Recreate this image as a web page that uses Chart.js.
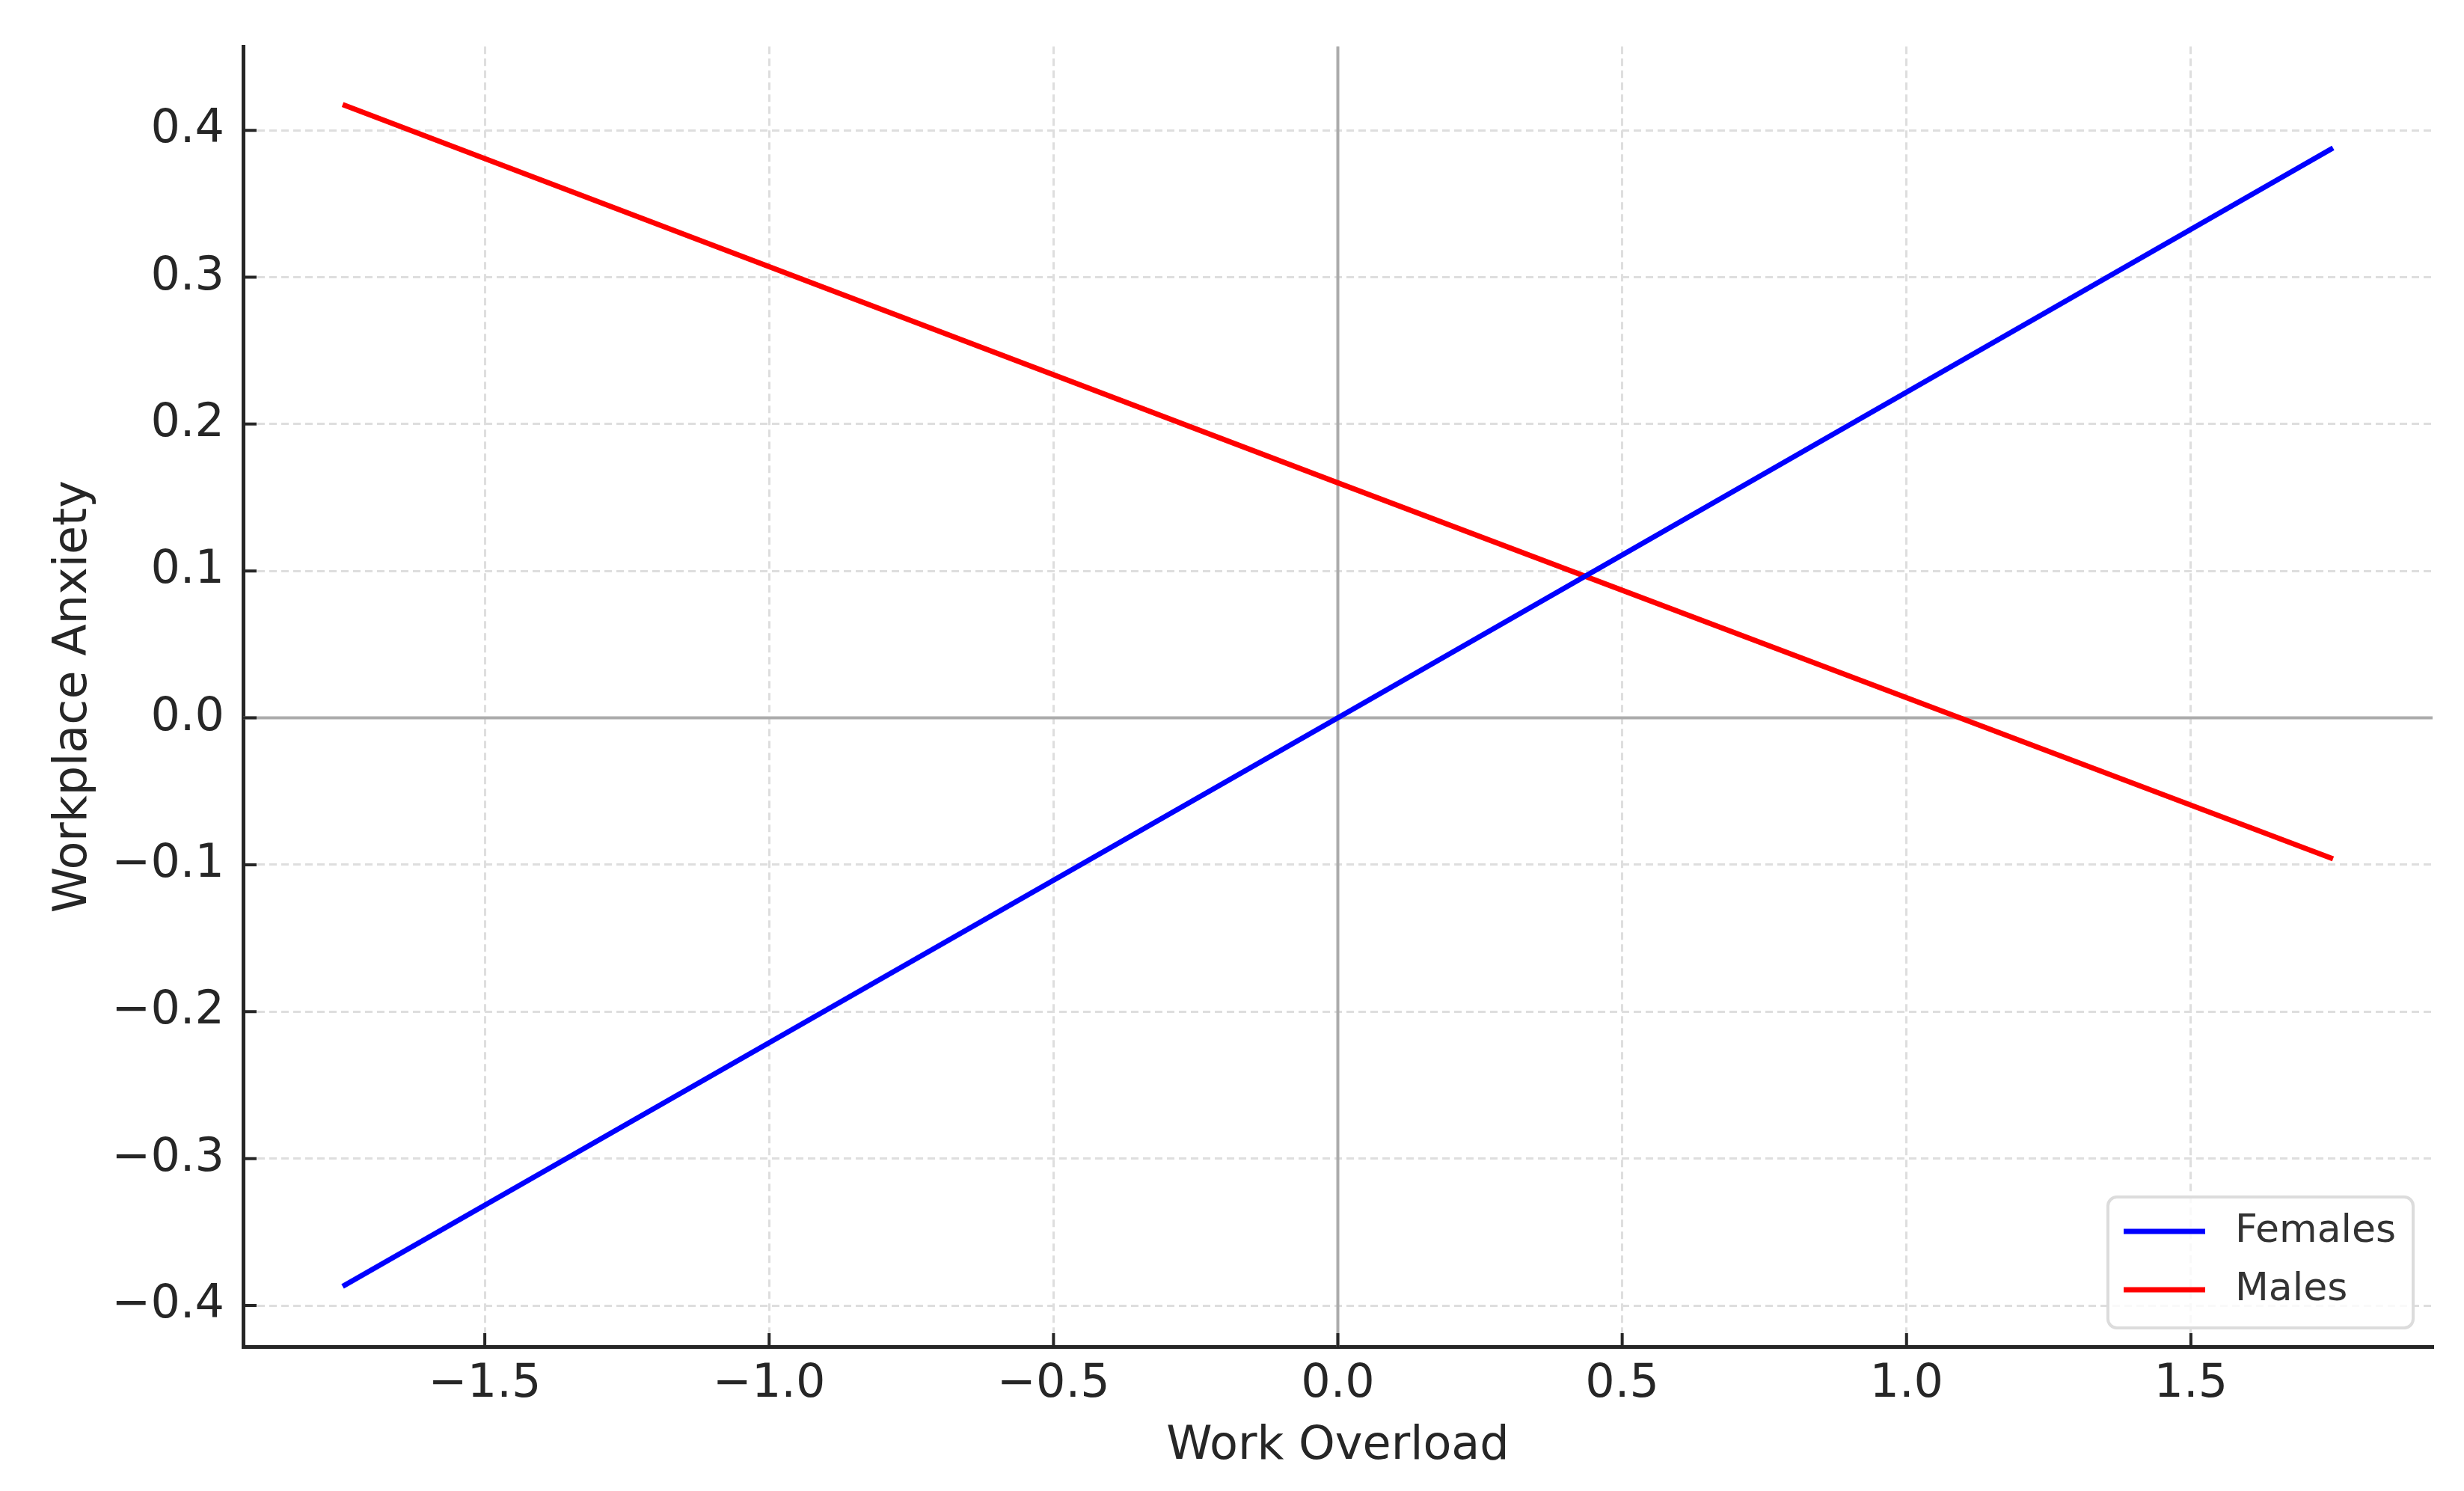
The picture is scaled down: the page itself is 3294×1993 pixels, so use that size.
<!DOCTYPE html>
<html>
<head>
<meta charset="utf-8">
<script src="https://cdn.jsdelivr.net/npm/chart.js@4.4.1/dist/chart.umd.min.js"></script>
<style>
  html, body { margin: 0; padding: 0; background: #fff; }
  #wrap { width: 3294px; height: 1993px; position: relative; }
</style>
</head>
<body>
<div id="wrap"><canvas id="grafico"></canvas></div>
<script>
const workOverload = [-1.75, 0, 1.75];
const femalesAnxiety = [-0.387, 0.0, 0.388];
const malesAnxiety = [0.4175, 0.160, -0.096];
const seriesNames = ['Females', 'Males'];
const seriesColors = ['#0000ff', '#ff0000'];
const xTicks = [-1.5, -1.0, -0.5, 0.0, 0.5, 1.0, 1.5];
const yTicks = [-0.4, -0.3, -0.2, -0.1, 0.0, 0.1, 0.2, 0.3, 0.4];

Chart.defaults.font.family = "'DejaVu Sans', sans-serif";
Chart.defaults.color = '#262626';

const fmt = v => (v < 0 ? '\u2212' : '') + Math.abs(v).toFixed(1);

// inward ticks, zero lines and the legend box
const extras = {
    id: 'extras',
    beforeDatasetsDraw(chart) {
        const ctx = chart.ctx;
        const a = chart.chartArea;
        const x0 = chart.scales.x.getPixelForValue(0);
        const y0 = chart.scales.y.getPixelForValue(0);
        ctx.save();
        ctx.strokeStyle = '#ababab';
        ctx.lineWidth = 4;
        ctx.beginPath();
        ctx.moveTo(x0, a.top);
        ctx.lineTo(x0, a.bottom);
        ctx.moveTo(a.left, y0);
        ctx.lineTo(a.right, y0);
        ctx.stroke();
        ctx.restore();
    },
    afterDraw(chart) {
        const ctx = chart.ctx;
        const a = chart.chartArea;
        ctx.save();
        ctx.strokeStyle = '#262626';
        ctx.lineWidth = 4;
        ctx.beginPath();
        xTicks.forEach(v => {
            const p = chart.scales.x.getPixelForValue(v);
            ctx.moveTo(p, a.bottom);
            ctx.lineTo(p, a.bottom - 18);
        });
        yTicks.forEach(v => {
            const p = chart.scales.y.getPixelForValue(v);
            ctx.moveTo(a.left, p);
            ctx.lineTo(a.left + 18, p);
        });
        ctx.stroke();

        // legend
        const bw = 408, bh = 175;
        const bx = a.right - 26 - bw;
        const by = a.bottom - 25 - bh;
        ctx.beginPath();
        ctx.roundRect(bx, by, bw, bh, 12);
        ctx.fillStyle = 'rgba(255,255,255,0.8)';
        ctx.fill();
        ctx.strokeStyle = '#dcdcdc';
        ctx.lineWidth = 4;
        ctx.stroke();
        ctx.font = "52px 'DejaVu Sans'";
        ctx.textBaseline = 'middle';
        ctx.textAlign = 'left';
        chart.data.datasets.forEach((ds, i) => {
            const yy = by + 46 + i * 78;
            ctx.strokeStyle = ds.borderColor;
            ctx.lineWidth = 7;
            ctx.beginPath();
            ctx.moveTo(bx + 21, yy);
            ctx.lineTo(bx + 130, yy);
            ctx.stroke();
            ctx.fillStyle = '#333333';
            ctx.fillText(ds.label, bx + 170, yy);
        });
        ctx.restore();
    }
};

new Chart(document.getElementById('grafico').getContext('2d'), {
    type: 'line',
    data: {
        datasets: [
            {
                label: seriesNames[0],
                data: workOverload.map((x, i) => ({ x: x, y: femalesAnxiety[i] })),
                borderColor: seriesColors[0],
                borderWidth: 7,
                pointRadius: 0,
                tension: 0
            },
            {
                label: seriesNames[1],
                data: workOverload.map((x, i) => ({ x: x, y: malesAnxiety[i] })),
                borderColor: seriesColors[1],
                borderWidth: 7,
                pointRadius: 0,
                tension: 0
            }
        ]
    },
    options: {
        responsive: true,
        maintainAspectRatio: false,
        animation: false,
        layout: { padding: { top: 59, right: 42, left: 0, bottom: 0 } },
        plugins: {
            legend: { display: false },
            tooltip: { enabled: false }
        },
        scales: {
            x: {
                type: 'linear',
                min: -1.925,
                max: 1.925,
                afterBuildTicks: s => { s.ticks = xTicks.map(v => ({ value: v })); },
                afterFit: s => { s.height = 193; },
                grid: { color: '#dedede', lineWidth: 3, drawTicks: false },
                border: { display: true, color: '#262626', width: 5, dash: [10, 6] },
                ticks: {
                    font: { size: 62 },
                    padding: 14,
                    maxRotation: 0,
                    callback: v => fmt(v)
                },
                title: {
                    display: true,
                    text: 'Work Overload',
                    font: { size: 62 },
                    padding: { top: 0, bottom: 22 }
                }
            },
            y: {
                type: 'linear',
                min: -0.428,
                max: 0.457,
                afterBuildTicks: s => { s.ticks = yTicks.map(v => ({ value: v })); },
                afterFit: s => { s.width = 325; },
                grid: { color: '#dedede', lineWidth: 3, drawTicks: false },
                border: { display: true, color: '#262626', width: 5, dash: [10, 6] },
                ticks: {
                    font: { size: 62 },
                    padding: 25,
                    callback: v => fmt(v)
                },
                title: {
                    display: true,
                    text: 'Workplace Anxiety',
                    font: { size: 62 },
                    padding: { top: 62, bottom: 0 }
                }
            }
        }
    },
    plugins: [extras]
});
</script>
</body>
</html>
